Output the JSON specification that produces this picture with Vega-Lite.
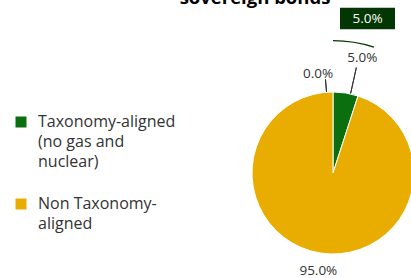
{
  "$schema": "https://vega.github.io/schema/vega-lite/v6.json",
  "autosize": "none",
  "padding": {"left": 255, "top": 68, "right": 0, "bottom": 0},
  "width": 156,
  "height": 210,
  "background": "white",
  "title": {"text": "sovereign bonds", "font": "Open Sans", "fontSize": 18.5, "fontWeight": "bold", "color": "#000000", "anchor": "middle", "frame": "group", "dx": -78, "dy": 16, "offset": 0},
  "data": {"values": [
    {"category": "Taxonomy-aligned: fossil gas and nuclear", "value": 0, "label": "0.0%"},
    {"category": "Taxonomy-aligned (no gas and nuclear)", "value": 5, "label": "5.0%"},
    {"category": "Non Taxonomy-aligned", "value": 95, "label": "95.0%"}
  ]},
  "layer": [
    {
      "mark": {"type": "arc", "radius": 81, "stroke": "white", "strokeWidth": 1},
      "encoding": {
        "theta": {"field": "value", "type": "quantitative", "stack": true},
        "order": {"field": "value", "sort": "ascending"},
        "color": {
          "field": "category", "type": "nominal",
          "scale": {"domain": ["Taxonomy-aligned: fossil gas and nuclear", "Taxonomy-aligned (no gas and nuclear)", "Non Taxonomy-aligned"], "range": ["#5a9e3a", "#0b6e0f", "#e8ad00"]},
          "legend": {
            "values": ["Taxonomy-aligned (no gas and nuclear)", "Non Taxonomy-aligned"],
            "orient": "none", "legendX": -242, "legendY": 46, "title": null,
            "symbolType": "square", "symbolSize": 121, "symbolStrokeWidth": 0,
            "labelFont": "Open Sans", "labelFontSize": 16, "labelColor": "#333333", "labelOffset": 9, "labelLimit": 300,
            "rowPadding": 26,
            "labelExpr": "datum.label === 'Taxonomy-aligned (no gas and nuclear)' ? ['Taxonomy-aligned', '(no gas and', 'nuclear)'] : ['Non Taxonomy-', 'aligned']",
            "encode": {"labels": {"enter": {"lineHeight": {"value": 20}}, "update": {"lineHeight": {"value": 20}}}}
          }
        }
      }
    },
    {
      "transform": [{"filter": "datum.value === 5"}],
      "mark": {"type": "arc", "radius": 133, "radius2": 131.7},
      "encoding": {
        "theta": {"field": "value", "type": "quantitative", "stack": true},
        "fill": {
          "field": "label", "type": "nominal",
          "scale": {"domain": ["5.0%"], "range": ["#023602"]},
          "legend": {
            "orient": "none", "legendX": 85, "legendY": -77, "title": null, "padding": 0,
            "symbolType": "M-1,-0.391H1V0.391H-1Z", "symbolSize": 3025, "symbolStrokeWidth": 0, "symbolOpacity": 1,
            "labelFont": "Open Sans", "labelFontSize": 13.5, "labelColor": "#ffffff", "labelAlign": "center", "labelOffset": -27.5
          }
        }
      }
    },
    {
      "transform": [{"filter": "datum.value === 0"}],
      "mark": {"type": "arc", "radius": 94, "radius2": 81.5, "thetaOffset": -0.08, "theta2Offset": -0.08, "filled": false, "stroke": "#333333", "strokeWidth": 1},
      "encoding": {
        "theta": {"field": "value", "type": "quantitative", "stack": true}
      }
    },
    {
      "transform": [{"filter": "datum.value === 0"}],
      "mark": {"type": "arc", "radius": 108, "radius2": 81.5, "thetaOffset": 0.218, "theta2Offset": 0.218, "filled": false, "stroke": "#333333", "strokeWidth": 1},
      "encoding": {
        "theta": {"field": "value", "type": "quantitative", "stack": true}
      }
    },
    {
      "mark": {"type": "text", "radius": 99, "dx": -15, "font": "Open Sans", "fontSize": 13.5, "color": "#333333"},
      "encoding": {
        "theta": {"field": "value", "type": "quantitative", "stack": true},
        "order": {"field": "value", "sort": "ascending"},
        "detail": {"field": "category"},
        "text": {"condition": {"test": "datum.value === 0", "field": "label"}, "value": ""}
      }
    },
    {
      "mark": {"type": "text", "radius": 117, "dx": 11, "dy": 1, "font": "Open Sans", "fontSize": 13.5, "color": "#333333"},
      "encoding": {
        "theta": {"field": "value", "type": "quantitative", "stack": true},
        "order": {"field": "value", "sort": "ascending"},
        "detail": {"field": "category"},
        "text": {"condition": {"test": "datum.value === 5", "field": "label"}, "value": ""}
      }
    },
    {
      "mark": {"type": "text", "radius": 100, "dx": 1, "dy": -1, "font": "Open Sans", "fontSize": 13.5, "color": "#333333"},
      "encoding": {
        "theta": {"field": "value", "type": "quantitative", "stack": true},
        "order": {"field": "value", "sort": "ascending"},
        "detail": {"field": "category"},
        "text": {"condition": {"test": "datum.value === 95", "field": "label"}, "value": ""}
      }
    }
  ],
  "config": {"view": {"stroke": null}, "style": {"guide-label": {"lineHeight": 20}}}
}
